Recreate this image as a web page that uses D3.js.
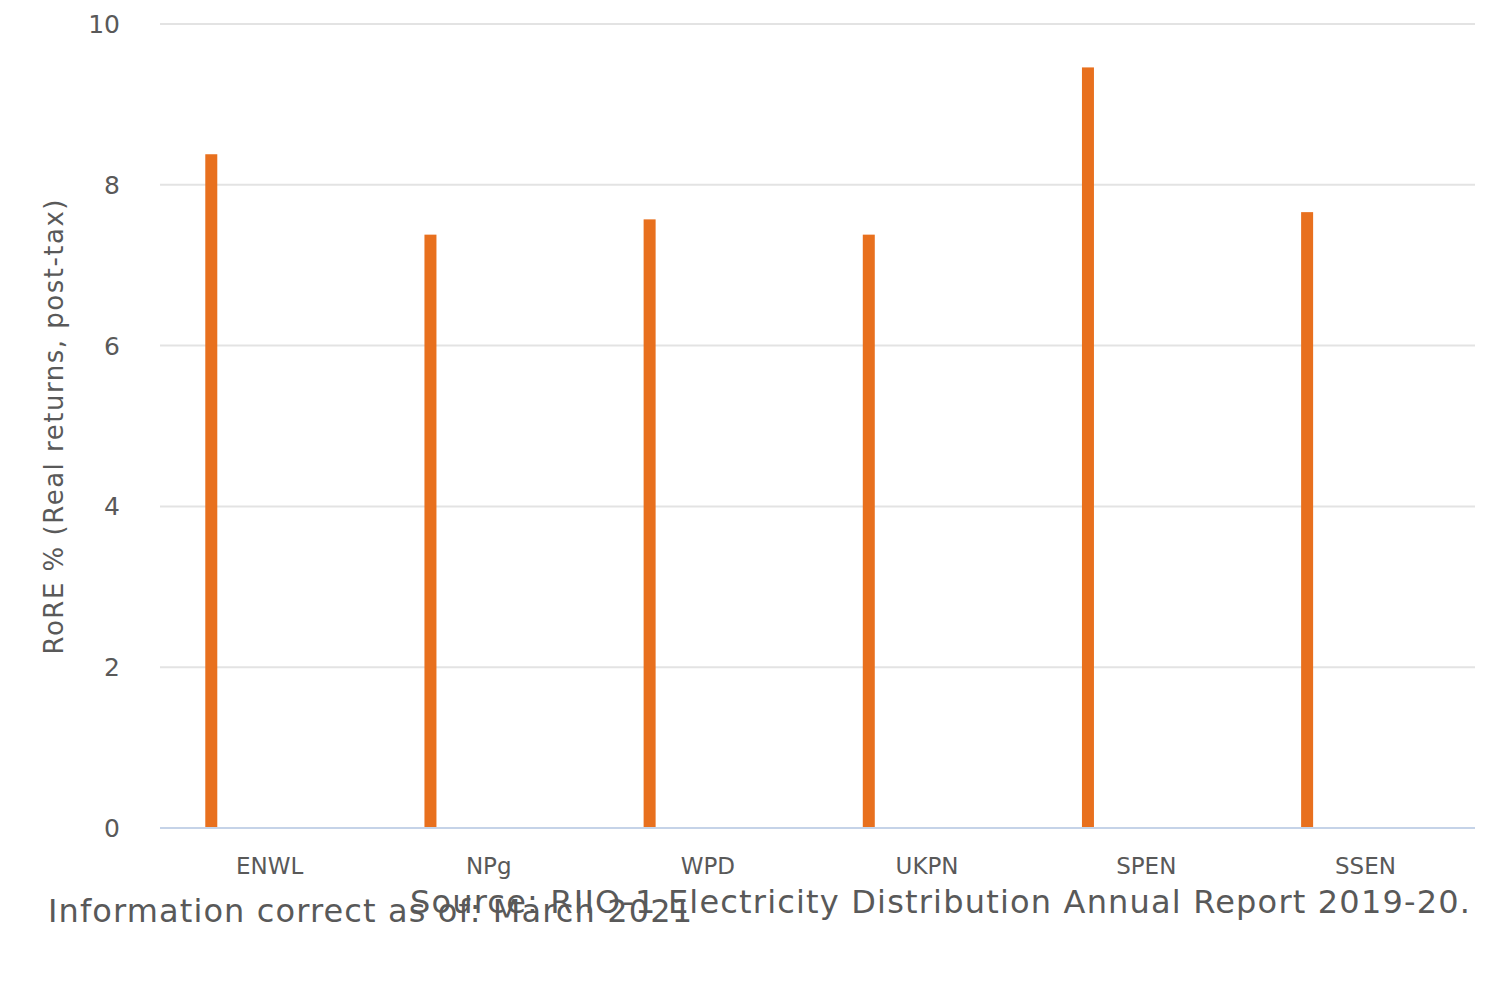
<!DOCTYPE html>
<html><head><meta charset="utf-8">
<script src="https://cdn.jsdelivr.net/npm/d3@7"></script>
<style>body{margin:0;background:#fff}text{font-family:"DejaVu Sans",sans-serif}</style>
</head><body><svg id="c" width="1500" height="1000"></svg>
<script>
const categories=["ENWL","NPg","WPD","UKPN","SPEN","SSEN"];
const values=[8.38,7.38,7.57,7.38,9.46,7.66];
const yTicks=[0,2,4,6,8,10];
const svg=d3.select("#c");
const m={l:160,r:1475,t:24,b:828};
const x=d3.scaleBand().domain(categories).range([m.l,m.r]);
const y=d3.scaleLinear().domain([0,10]).range([m.b,m.t]);
svg.append("g").selectAll("line").data(yTicks.filter(d=>d>0)).join("line")
 .attr("x1",m.l).attr("x2",m.r).attr("y1",d=>y(d)).attr("y2",d=>y(d)).attr("stroke","#e3e3e3").attr("stroke-width",2);
svg.append("g").selectAll("text").data(yTicks).join("text")
 .attr("x",120).attr("y",d=>y(d)+9).attr("text-anchor","end").attr("fill","#595959").attr("font-size",25).text(d=>d);
svg.append("g").selectAll("rect").data(values).join("rect")
 .attr("x",(d,i)=>x(categories[i])+x.bandwidth()*0.234-6).attr("width",12)
 .attr("y",d=>y(d)).attr("height",d=>y(0)-y(d)).attr("fill","#e8701e");
svg.append("line").attr("x1",m.l).attr("x2",m.r).attr("y1",y(0)).attr("y2",y(0)).attr("stroke","#c5d3e8").attr("stroke-width",2);
svg.append("g").selectAll("text").data(categories).join("text")
 .attr("x",d=>x(d)+x.bandwidth()/2).attr("y",874).attr("text-anchor","middle").attr("fill","#595959").attr("font-size",23).text(d=>d);
svg.append("text").attr("transform","translate(63,427) rotate(-90)").attr("text-anchor","middle").attr("fill","#595959").attr("font-size",26)
 .attr("textLength",455).attr("lengthAdjust","spacing").text("RoRE % (Real returns, post-tax)");
svg.append("text").attr("x",410).attr("y",913).attr("fill","#595959").attr("font-size",32)
 .attr("textLength",1060).attr("lengthAdjust","spacing").text("Source: RIIO-1 Electricity Distribution Annual Report 2019-20.");
svg.append("text").attr("x",48).attr("y",922).attr("fill","#595959").attr("font-size",32)
 .attr("textLength",644).attr("lengthAdjust","spacing").text("Information correct as of: March 2021");
</script></body></html>
